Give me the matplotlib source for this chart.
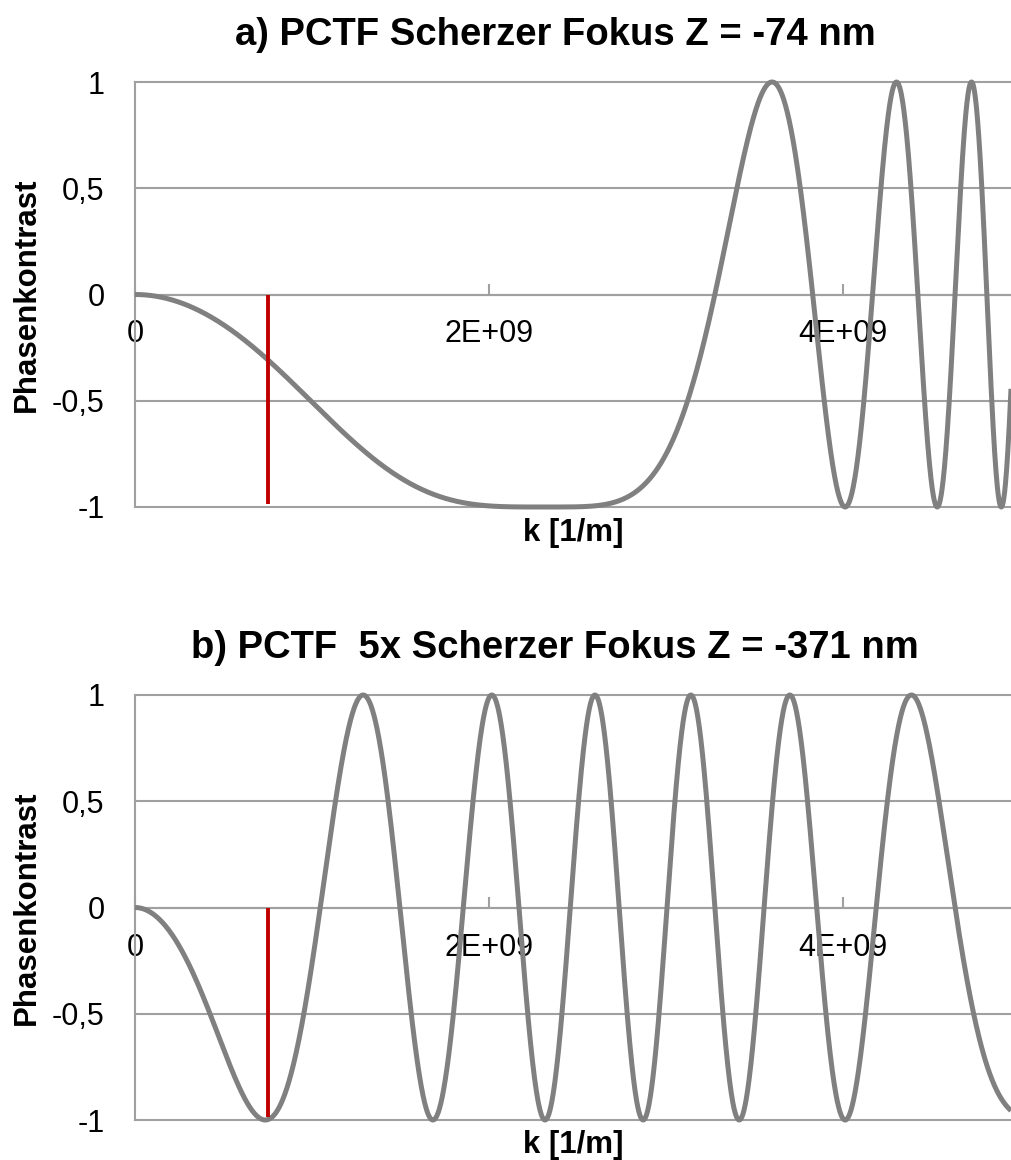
import numpy as np
import matplotlib
matplotlib.use("Agg")
import matplotlib.pyplot as plt

# ---- data ----
titles = ["a) PCTF Scherzer Fokus Z = -74 nm",
          "b) PCTF  5x Scherzer Fokus Z = -371 nm"]
defocus_nm = [-74.28, -371.4]      # Z for each panel
wavelength_pm = 2.508              # electron wavelength (200 kV)
cs_mm = 2.2                        # spherical aberration
k_max = 4.95e9                     # right end of visible k range [1/m]
red_line_k = 0.75e9                # position of the red marker
x_ticks = [0, 2e9, 4e9]
x_tick_labels = ["0", "2E+09", "4E+09"]
y_ticks = [-1, -0.5, 0, 0.5, 1]
y_tick_labels = ["-1", "-0,5", "0", "0,5", "1"]
x_label = "k [1/m]"
y_label = "Phasenkontrast"

plt.rcParams["font.family"] = ["Liberation Sans", "DejaVu Sans"]

W, H = 1011, 1160
fig = plt.figure(figsize=(W / 100, H / 100), dpi=100)

grid_col = "#a0a0a0"
curve_col = "#808080"
red_col = "#c00000"

k = np.linspace(0, k_max, 3000)
lam = wavelength_pm * 1e-12
cs = cs_mm * 1e-3

# panel layout in pixels: (top of y=1, bottom y=-1)
panels = [(82, 507, 35, 533), (695, 1120, 648, 1145)]
left_px = 135

for i, (top, bot, title_y, xlab_y) in enumerate(panels):
    ax = fig.add_axes([left_px / W, 1 - bot / H, 1 - left_px / W, (bot - top) / H])
    z = defocus_nm[i] * 1e-9
    chi = np.pi * lam * z * k**2 + 0.5 * np.pi * cs * lam**3 * k**4
    pctf = np.sin(chi)

    ax.set_xlim(0, k_max)
    ax.set_ylim(-1, 1)
    for yv in y_ticks:
        ax.axhline(yv, color=grid_col, lw=1.5, zorder=1, clip_on=False)
    ax.plot(k, pctf, color=curve_col, lw=3.6, zorder=3, clip_on=False,
            solid_capstyle="butt")
    ax.plot([red_line_k, red_line_k], [0, -0.985], color=red_col, lw=2.8,
            zorder=4, solid_capstyle="butt")

    for s in ["top", "right"]:
        ax.spines[s].set_visible(False)
    ax.spines["left"].set_color(grid_col)
    ax.spines["left"].set_linewidth(1.5)
    ax.spines["bottom"].set_position(("data", 0))
    ax.spines["bottom"].set_color(grid_col)
    ax.spines["bottom"].set_linewidth(1.5)

    ax.set_xticks(x_ticks)
    ax.set_xticklabels(x_tick_labels)
    ax.set_yticks(y_ticks)
    ax.set_yticklabels(y_tick_labels)
    ax.tick_params(axis="x", direction="in", length=8, width=1.5,
                   color=grid_col, labelsize=22, pad=18)
    ax.tick_params(axis="y", length=0, labelsize=22, pad=22)
    ax.set_facecolor("none")

    fig.text(555 / W, 1 - title_y / H, titles[i], ha="center", va="center",
             fontsize=27.5, fontweight="bold")
    fig.text(573 / W, 1 - xlab_y / H, x_label, ha="center", va="center",
             fontsize=22.5, fontweight="bold")
    fig.text(27 / W, 1 - (top + bot) / 2 / H, y_label, ha="center",
             va="center", rotation=90, fontsize=22.5, fontweight="bold")

fig.savefig("out.png", dpi=100)
